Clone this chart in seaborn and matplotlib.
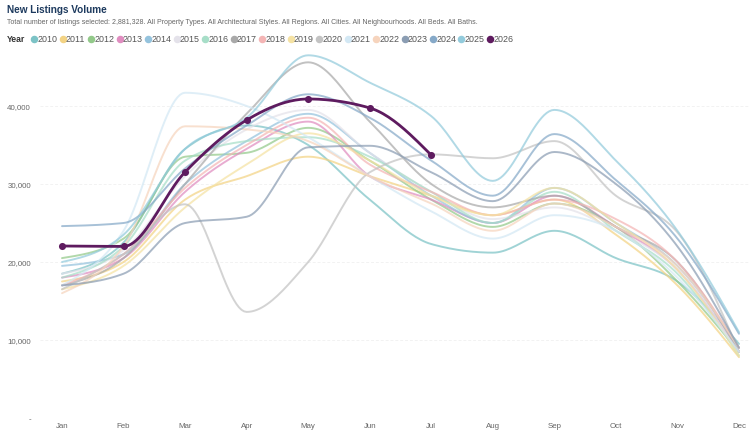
import numpy as np
import pandas as pd
import matplotlib
matplotlib.use("Agg")
import matplotlib.pyplot as plt
from matplotlib.lines import Line2D
import seaborn as sns

months = ["Jan", "Feb", "Mar", "Apr", "May", "Jun", "Jul", "Aug", "Sep", "Oct", "Nov", "Dec"]
years = [str(y) for y in range(2010, 2027)]

v2010 = [18500, 22500, 34500, 37500, 35000, 28000, 22300, 21200, 24000, 20500, 17500, 9500]
v2011 = [17500, 20000, 28000, 31000, 33500, 31000, 28500, 26000, 28000, 23500, 17000, 7800]
v2012 = [20500, 23000, 33500, 34000, 37200, 33000, 28000, 24500, 27500, 24500, 17500, 8500]
v2013 = [18000, 20500, 29000, 34500, 38000, 31000, 28000, 25000, 28500, 24500, 19000, 8500]
v2014 = [19500, 21000, 30000, 35500, 39000, 34000, 28500, 25000, 29500, 25000, 19500, 9000]
v2015 = [18500, 21500, 31000, 37000, 39500, 34000, 29000, 25500, 27000, 24000, 19000, 8500]
v2016 = [18000, 22000, 33000, 35500, 36000, 33500, 29000, 25000, 29000, 24000, 18500, 8000]
v2017 = [17000, 20500, 30000, 39000, 45600, 38000, 30000, 27000, 28500, 24500, 20000, 8500]
v2018 = [17000, 21000, 29500, 35000, 38500, 32500, 29000, 26000, 28000, 25500, 20000, 9000]
v2019 = [16500, 19500, 27000, 32500, 36500, 33000, 28500, 26000, 29500, 25000, 19000, 8000]
v2020 = [16500, 21000, 27400, 13600, 20000, 31500, 33800, 33300, 35500, 28500, 23800, 8500]
v2021 = [17000, 24000, 41700, 40000, 36000, 31000, 26500, 23000, 26000, 24000, 18000, 8500]
v2022 = [16000, 22000, 37400, 37000, 35500, 31000, 27500, 24000, 27500, 24500, 19500, 9000]
v2023 = [17000, 18500, 25000, 25800, 34700, 34900, 31500, 27800, 34100, 30000, 22000, 9000]
v2024 = [24600, 25000, 32000, 37500, 41500, 38500, 33000, 28500, 36400, 30500, 23000, 10800]
v2025 = [20000, 23500, 34500, 38500, 46500, 43000, 38700, 30400, 39500, 33000, 24000, 11000]
v2026 = [22050, 22000, 31540, 38200, 40900, 39750, 33700]

series = [v2010, v2011, v2012, v2013, v2014, v2015, v2016, v2017, v2018,
          v2019, v2020, v2021, v2022, v2023, v2024, v2025, v2026]

colors = ["#7CC3C6", "#F3D384", "#93C98A", "#E08DC0", "#95C3DD", "#E4E2EA",
          "#A7DEC8", "#A9A9A9", "#F4B5B5", "#F5E2A3", "#C3C3C3", "#D3E8F4",
          "#F6D4BD", "#8B9DB3", "#86A9C8", "#93CBDC", "#5E1B5F"]
palette = dict(zip(years, colors))


def monotone(x, y, n=24):
    x = np.asarray(x, float)
    y = np.asarray(y, float)
    h = np.diff(x)
    s = np.diff(y) / h
    m = len(x)
    t = np.zeros(m)
    for i in range(1, m - 1):
        p = (s[i - 1] * h[i] + s[i] * h[i - 1]) / (h[i - 1] + h[i])
        t[i] = (np.sign(s[i - 1]) + np.sign(s[i])) * min(abs(s[i - 1]), abs(s[i]), 0.5 * abs(p))
    if m > 2:
        t[0] = (3 * s[0] - t[1]) / 2
        t[-1] = (3 * s[-1] - t[-2]) / 2
    else:
        t[:] = s[0]
    xs, ys = [], []
    for i in range(m - 1):
        u = np.linspace(0, 1, n, endpoint=(i == m - 2))
        h00 = 2 * u**3 - 3 * u**2 + 1
        h10 = u**3 - 2 * u**2 + u
        h01 = -2 * u**3 + 3 * u**2
        h11 = u**3 - u**2
        xs.append(x[i] + u * h[i])
        ys.append(h00 * y[i] + h10 * h[i] * t[i] + h01 * y[i + 1] + h11 * h[i] * t[i + 1])
    return np.concatenate(xs), np.concatenate(ys)


raw_rows = []
smooth_rows = []
for yr, vals in zip(years, series):
    xi = np.arange(len(vals))
    for a, b in zip(xi, vals):
        raw_rows.append({"Year": yr, "m": a, "v": b})
    sx, sy = monotone(xi, vals)
    for a, b in zip(sx, sy):
        smooth_rows.append({"Year": yr, "m": a, "v": b})
raw = pd.DataFrame(raw_rows)
smooth = pd.DataFrame(smooth_rows)

sns.set_theme(style="white")
plt.rcParams["font.family"] = ["Liberation Sans", "DejaVu Sans"]

W, H = 750, 439
fig = plt.figure(figsize=(W / 100, H / 100), dpi=100)
ax_bottom = 419
ax_top = 48.5
ax = fig.add_axes([40 / W, 1 - ax_bottom / H, 710 / W, (ax_bottom - ax_top) / H])

for y in [0, 10000, 20000, 30000, 40000]:
    ax.axhline(y, color="#F2F2F2", lw=0.7, ls=(0, (3, 2)), zorder=0)

others = smooth[smooth["Year"] != "2026"]
sns.lineplot(data=others, x="m", y="v", hue="Year", palette=palette, sort=False,
             estimator=None, lw=1.4, alpha=0.72, legend=False, ax=ax)
cur = smooth[smooth["Year"] == "2026"]
sns.lineplot(data=cur, x="m", y="v", color=palette["2026"], sort=False,
             estimator=None, lw=2.0, legend=False, ax=ax, zorder=5)
sns.scatterplot(data=raw[raw["Year"] == "2026"], x="m", y="v", color=palette["2026"],
                s=26, edgecolor=palette["2026"], linewidth=0, ax=ax, zorder=6, legend=False)

ax.set_xlim(-22 / 61.5, 11 + 11 / 61.5)
ax.set_ylim(0, 47500)
ax.set_xticks(range(12))
ax.set_xticklabels(months)
ax.set_yticks([0, 10000, 20000, 30000, 40000])
ax.set_yticklabels(["-", "10,000", "20,000", "30,000", "40,000"])
ax.tick_params(axis="both", length=0, labelsize=5.7, labelcolor="#666666")
ax.tick_params(axis="y", pad=6.5)
ax.tick_params(axis="x", pad=3.2)
ax.set_xlabel("")
ax.set_ylabel("")
for sp in ax.spines.values():
    sp.set_visible(False)
ax.set_facecolor("white")

fig.text(7 / W, 1 - 10 / H, "New Listings Volume", fontsize=7.2, fontweight="bold",
         color="#1D3A5E", va="center", ha="left")
fig.text(7 / W, 1 - 23 / H,
         "Total number of listings selected: 2,881,328. All Property Types. All Architectural Styles. "
         "All Regions. All Cities. All Neighbourhoods. All Beds. All Baths.",
         fontsize=5.0, color="#666666", va="center", ha="left")

ly = 1 - 40 / H
fig.text(7 / W, ly, "Year", fontsize=6.2, fontweight="bold", color="#333333", va="center", ha="left")
for i, (yr, c) in enumerate(zip(years, colors)):
    mx = 34 + 28.5 * i
    fig.add_artist(Line2D([mx / W], [ly], transform=fig.transFigure, marker="o",
                          markersize=4.4, color=c, linestyle="none"))
    fig.text((mx + 3.5) / W, ly, yr, fontsize=6.4, color="#555555", va="center", ha="left")

fig.savefig("out.png", dpi=100, facecolor="white")
